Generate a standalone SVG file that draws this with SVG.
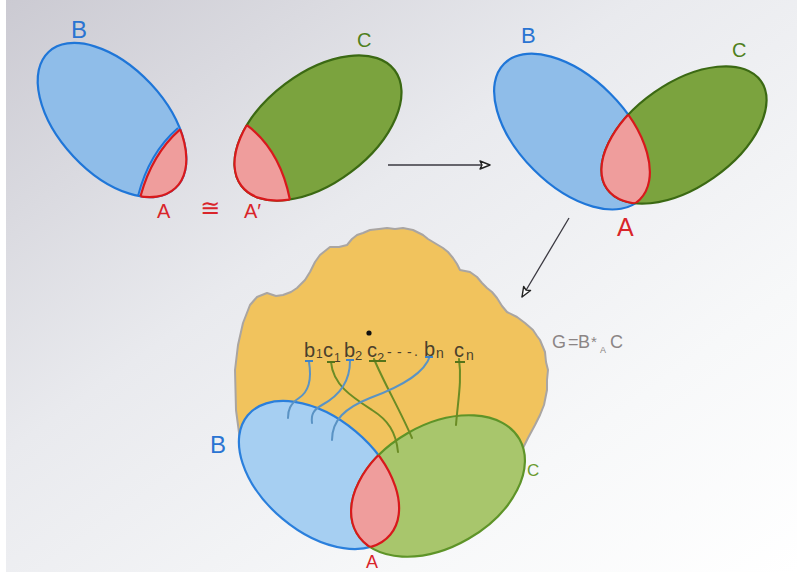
<svg xmlns="http://www.w3.org/2000/svg" xmlns:xlink="http://www.w3.org/1999/xlink" width="797" height="572" viewBox="0 0 797 572">
<style>
.lbl{font-family:"Liberation Sans","DejaVu Sans",sans-serif;}
.blueT{fill:#2a74d2;}
.greenT{fill:#4f7f1c;}
.redT{fill:#d9252a;}
.b1{fill:#8fbde9;stroke:#1f76d8;stroke-width:2.2;}
.g1{fill:#7ba33e;stroke:#3b6913;stroke-width:2.2;}
.b3{fill:#a6cff2;stroke:#2a7fdc;stroke-width:2.2;}
.g3{fill:#a8c66c;stroke:#5e9428;stroke-width:2.2;}
.red{fill:#ef9d9c;stroke:#d8191c;stroke-width:2.2;}
.redline{fill:none;stroke:#d8191c;stroke-width:2.2;}
.arrow{fill:none;stroke:#3a3840;stroke-width:1.3;marker-end:url(#head);}
.cb{fill:none;stroke:#5a93c4;stroke-width:2;stroke-linecap:round;}
.cg{fill:none;stroke:#6b8c25;stroke-width:2;stroke-linecap:round;}
.row{font-family:"Liberation Sans","DejaVu Sans",sans-serif;fill:#4a3f2c;}
</style>
<defs>
<linearGradient id="bg" x1="0" y1="0" x2="1" y2="1">
<stop offset="0" stop-color="#cbcad2"/>
<stop offset="0.4" stop-color="#e9eaee"/>
<stop offset="0.75" stop-color="#f7f8f9"/>
<stop offset="1" stop-color="#ffffff"/>
</linearGradient>
<marker id="head" markerUnits="userSpaceOnUse" markerWidth="14" markerHeight="12" refX="11" refY="5" orient="auto">
<path d="M1,1 L11,5 L1,9 L3,5 Z" fill="#ffffff" stroke="#222" stroke-width="1.4" stroke-linejoin="round"/>
</marker>
<ellipse id="eB1" cx="112" cy="120" rx="93" ry="53" transform="rotate(47 112 120)"/>
<ellipse id="eC1" cx="318" cy="128" rx="96" ry="55" transform="rotate(-37 318 128)"/>
<ellipse id="eB2" cx="572" cy="131.6" rx="96" ry="54" transform="rotate(45 572 131.6)"/>
<ellipse id="eC2" cx="684" cy="135" rx="94" ry="52" transform="rotate(-35 684 135)"/>
<ellipse id="eB3" cx="319" cy="475" rx="93" ry="57" transform="rotate(40 319 475)"/>
<ellipse id="eC3" cx="438" cy="486" rx="94" ry="61" transform="rotate(-30 438 486)"/>
<clipPath id="clipA1"><path d="M200,112 L180.1,129.4 Q152,154 140.5,196.2 L138,215 L215,215 L215,112 Z"/></clipPath>
<clipPath id="clipA1p"><path d="M230,105 L246.9,125.2 Q280,150 289.9,199.5 L292,215 L215,215 L215,105 Z"/></clipPath>
<clipPath id="cB2"><use xlink:href="#eB2"/></clipPath>
<clipPath id="cC2"><use xlink:href="#eC2"/></clipPath>
<clipPath id="cB3"><use xlink:href="#eB3"/></clipPath>
<clipPath id="cC3"><use xlink:href="#eC3"/></clipPath>
</defs>

<rect x="0" y="0" width="797" height="572" fill="url(#bg)"/>
<rect x="0" y="0" width="6" height="572" fill="#ffffff"/>

<!-- top left: B with A -->
<g id="B-top">
<use xlink:href="#eB1" class="b1"/>
<text class="lbl blueT" x="71" y="38" font-size="24">B</text>
</g>
<g id="A-top">
<g clip-path="url(#clipA1)"><use xlink:href="#eB1" class="red"/></g>
<path d="M178,128 Q149,153 138,196" fill="none" stroke="#1f76d8" stroke-width="2"/>
<path d="M180.1,129.4 Q152,154 140.5,196.2" class="redline"/>
<text class="lbl redT" x="157" y="218" font-size="20">A</text>
</g>
<text class="lbl redT" x="200" y="216" font-size="24">≅</text>

<!-- top middle: C with A' -->
<g id="C-top">
<use xlink:href="#eC1" class="g1"/>
<text class="lbl greenT" x="357" y="47" font-size="20">C</text>
</g>
<g id="A-prime">
<g clip-path="url(#clipA1p)"><use xlink:href="#eC1" class="red"/></g>
<path d="M246.9,125.2 Q280,150 289.9,199.5" class="redline"/>
<text class="lbl redT" x="244" y="218" font-size="20">A′</text>
</g>

<!-- top right: amalgam -->
<g id="B-right">
<use xlink:href="#eB2" class="b1"/>
<text class="lbl blueT" x="521" y="43" font-size="22">B</text>
</g>
<g id="C-right">
<use xlink:href="#eC2" class="g1"/>
<text class="lbl greenT" x="732" y="57" font-size="20">C</text>
</g>
<g id="A-right">
<g clip-path="url(#cB2)"><use xlink:href="#eC2" class="red"/></g>
<g clip-path="url(#cC2)"><use xlink:href="#eB2" class="redline"/></g>
<text class="lbl redT" x="617" y="236" font-size="25">A</text>
</g>

<!-- bottom: G -->
<g id="G">
<path d="M240,440 L236,410 L235,370 L238,345 L243,323 L250,305 L257,297 L267,293 L276,296 L283,295 L291,292 L297,288 L305,280 L310,272 L315,262 L320,255 L330,247 L339,247 L347,245 L352,239 L357,235 L363,233 L370,230 L379,229 L387,228 L395,229 L403,228 L413,230 L423,235 L428,239 L433,242 L443,248 L448,252 L453,258 L457,264 L460,270 L470,272 L477,277 L482,283 L487,288 L492,292 L497,298 L502,306 L507,312 L517,317 L525,323 L533,330 L537,336 L540,340 L545,352 L546,362 L548,370 L547,380 L547,390 L544,405 L540,415 L535,425 L528,438 L522,450 L450,470 L380,470 L300,470 Z" fill="#f1c35d" stroke="#a9a5a2" stroke-width="2" stroke-linejoin="round"/>
<circle cx="369" cy="333" r="2.6" fill="#111"/>
<text class="lbl" x="552" y="348" font-size="18" fill="#8b8585">G<tspan x="568">=</tspan><tspan x="578">B</tspan><tspan x="591" y="347" font-size="15">*</tspan><tspan x="600" y="353" font-size="9">A</tspan><tspan x="610" y="348">C</tspan></text>
</g>
<g id="B-bottom">
<use xlink:href="#eB3" class="b3"/>
<text class="lbl blueT" x="210" y="453" font-size="24">B</text>
</g>
<g id="C-bottom">
<use xlink:href="#eC3" class="g3"/>
<text class="lbl" x="527" y="476" font-size="17" fill="#6a9a2e">C</text>
</g>
<g id="A-bottom">
<g clip-path="url(#cB3)"><use xlink:href="#eC3" class="red"/></g>
<g clip-path="url(#cC3)"><use xlink:href="#eB3" class="redline"/></g>
<text class="lbl redT" x="366" y="568" font-size="18">A</text>
</g>

<g id="connectors">
<path class="arrow" d="M388,165 L490,165"/>
<path class="arrow" d="M569,218 L522,297"/>
<path class="cb" d="M309,362 C312,380 308,392 299,398 C290,404 288,410 288,418"/>
<path class="cg" d="M331,362 C333,385 352,397 372,410 C388,420 396,432 398,452"/>
<path class="cb" d="M350,361 C350,385 335,398 322,405 C313,410 311,415 312,423"/>
<path class="cg" d="M374,359 C385,385 400,410 412,438"/>
<path class="cb" d="M430,356 C425,372 405,385 370,398 C345,408 332,420 332,440"/>
<path class="cg" d="M459,359 C462,380 458,400 456,425"/>
</g>

<g id="generators">
<text class="row" font-size="20"><tspan x="304" y="357">b</tspan><tspan x="316" y="358" font-size="12">1</tspan><tspan x="323" y="357">c</tspan><tspan x="334" y="362" font-size="12">1</tspan><tspan x="344" y="357">b</tspan><tspan x="355" y="360" font-size="13">2</tspan><tspan x="367" y="357">c</tspan><tspan x="377" y="362" font-size="13">2</tspan><tspan x="387" y="357" font-size="14">-</tspan><tspan x="397" y="357" font-size="14">-</tspan><tspan x="407" y="357" font-size="14">-</tspan><tspan x="414" y="356" font-size="14">.</tspan><tspan x="424" y="356">b</tspan><tspan x="436" y="358" font-size="14">n</tspan><tspan x="454" y="357">c</tspan><tspan x="466" y="360" font-size="14">n</tspan></text>
<path d="M305,361 h8" stroke="#3f83c8" stroke-width="2"/>
<path d="M327,362 h8" stroke="#55741a" stroke-width="2"/>
<path d="M346,360 h8" stroke="#3f83c8" stroke-width="2"/>
<path d="M369,361 h17" stroke="#55741a" stroke-width="2"/>
<path d="M425,357 h8" stroke="#3f83c8" stroke-width="2"/>
<path d="M455,362 h10" stroke="#55741a" stroke-width="2"/>
</g>
</svg>
